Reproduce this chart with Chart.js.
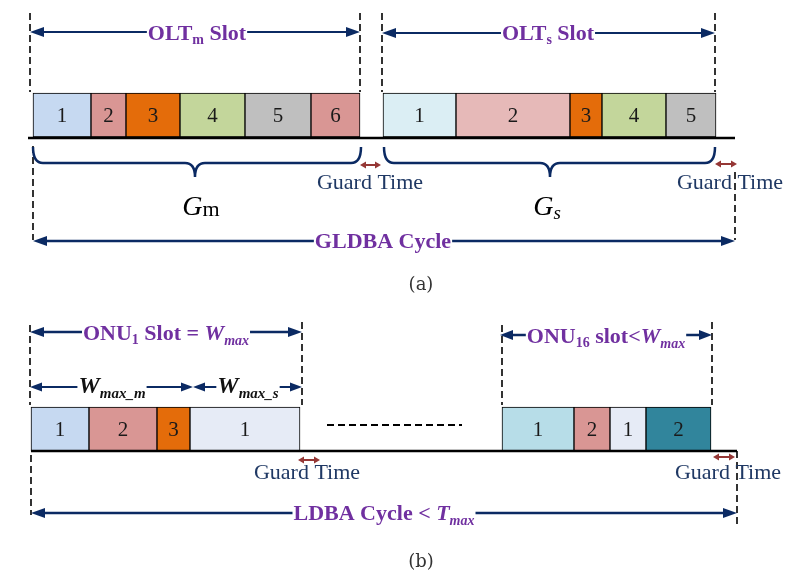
<!DOCTYPE html>
<html><head><meta charset="utf-8">
<script src="https://cdn.jsdelivr.net/npm/chart.js@4"></script>
<style>html,body{margin:0;padding:0;background:#fff}canvas{display:block}</style>
</head><body>
<canvas id="c" width="802" height="576"></canvas>
<script>
// ---- data (time units along the horizontal axis) ----
const oltmEdges = [33, 91, 126, 180, 245, 311, 360];
const oltmLabels = ['1','2','3','4','5','6'];
const oltmColors = ['#c6d9f1','#d99694','#e46c0a','#c3d69b','#bfbfbf','#d99694'];

const oltsEdges = [383, 456, 570, 602, 666, 716];
const oltsLabels = ['1','2','3','4','5'];
const oltsColors = ['#dbeef4','#e6b9b8','#e46c0a','#c3d69b','#bfbfbf'];

const onu1Edges = [31, 89, 157, 190, 300];
const onu1Labels = ['1','2','3','1'];
const onu1Colors = ['#c6d9f1','#d99694','#e46c0a','#e6ebf6'];

const onu16Edges = [502, 574, 610, 646, 711];
const onu16Labels = ['1','2','1','2'];
const onu16Colors = ['#b7dde8','#d99694','#e6ebf6','#31859c'];

const rowA = 115, rowB = 429;

function segs(edges, row){ const o=[]; for(let i=0;i<edges.length-1;i++) o.push({x:[edges[i],edges[i+1]], y:row}); return o; }
const barData = [].concat(segs(oltmEdges,rowA), segs(oltsEdges,rowA), segs(onu1Edges,rowB), segs(onu16Edges,rowB));
const barColors = [].concat(oltmColors, oltsColors, onu1Colors, onu16Colors);
const barLabels = [].concat(oltmLabels, oltsLabels, onu1Labels, onu16Labels);

const NAVY = '#0b2a63', PURPLE = '#7030a0', RED = '#953735', GT = '#1f3864';
const SERIF = '"Liberation Serif", "Times New Roman", serif';

function rich(ctx, runs, cx, base, bg){
  let w = 0;
  runs.forEach(r => { ctx.font = r.f; r.w = ctx.measureText(r.t).width; w += r.w; });
  let x = cx - w/2;
  if (bg) { ctx.fillStyle = '#fff'; ctx.fillRect(x-1, base-20, w+2, 28); }
  ctx.textAlign = 'left'; ctx.textBaseline = 'alphabetic';
  runs.forEach(r => { ctx.font = r.f; ctx.fillStyle = r.c; ctx.fillText(r.t, x, base + (r.dy||0)); x += r.w; });
}

const annot = {
  id: 'annot',
  afterDatasetsDraw(chart){
    const ctx = chart.ctx, X = v => chart.scales.x.getPixelForValue(v), Y = v => chart.scales.y.getPixelForValue(v);
    ctx.save();
    // numbers in boxes
    const meta = chart.getDatasetMeta(0);
    ctx.font = '21px ' + SERIF; ctx.fillStyle = '#1a1a1a'; ctx.textAlign = 'center'; ctx.textBaseline = 'middle';
    meta.data.forEach((el, i) => { const p = el.getProps(['x','base','y'], true); ctx.fillText(barLabels[i], (p.x + p.base)/2, p.y + 1); });

    // baselines
    function hline(x1,x2,y,lw,col){ ctx.beginPath(); ctx.lineWidth=lw; ctx.strokeStyle=col; ctx.setLineDash([]); ctx.moveTo(X(x1),Y(y)); ctx.lineTo(X(x2),Y(y)); ctx.stroke(); }
    hline(28, 735, 138, 2.5, '#000');
    hline(31, 737, 451, 2.5, '#000');

    // dashed lines
    function dash(x1,y1,x2,y2,lw){ ctx.beginPath(); ctx.lineWidth=lw||1.6; ctx.strokeStyle='#000'; ctx.setLineDash([7,4]); ctx.moveTo(X(x1),Y(y1)); ctx.lineTo(X(x2),Y(y2)); ctx.stroke(); ctx.setLineDash([]); }
    [[30,13,30,92],[360,13,360,92],[382,13,382,92],[715,13,715,92],
     [33,146,33,240],[735,172,735,240],
     [30,325,30,405],[302,322,302,405],[502,325,502,405],[712,322,712,405],
     [31,455,31,515],[737,451,737,526]].forEach(d => dash(d[0],d[1],d[2],d[3]));
    dash(327,425,462,425,1.8);

    // arrows
    function arrow(x1,x2,y,col,lw,hl,hw){
      const a=X(x1), b=X(x2), yy=Y(y);
      ctx.beginPath(); ctx.lineWidth=lw; ctx.strokeStyle=col; ctx.moveTo(a+hl-1,yy); ctx.lineTo(b-hl+1,yy); ctx.stroke();
      ctx.fillStyle=col;
      ctx.beginPath(); ctx.moveTo(a,yy); ctx.lineTo(a+hl,yy-hw); ctx.lineTo(a+hl,yy+hw); ctx.closePath(); ctx.fill();
      ctx.beginPath(); ctx.moveTo(b,yy); ctx.lineTo(b-hl,yy-hw); ctx.lineTo(b-hl,yy+hw); ctx.closePath(); ctx.fill();
    }
    arrow(30,360,32,NAVY,2,14,5);
    arrow(382,715,33,NAVY,2,14,5);
    arrow(33,735,241,NAVY,2.5,14,5);
    arrow(30,302,332,NAVY,2.5,14,5);
    arrow(30,193,387,NAVY,2,12,4.5);
    arrow(193,302,387,NAVY,2,12,4.5);
    arrow(500,712,335,NAVY,2.5,13,5);
    arrow(31,737,513,NAVY,2.5,14,5);
    // guard time arrows
    arrow(360,381,165,RED,2,6,3.5);
    arrow(715,737,164,RED,2,6,3.5);
    arrow(298,320,460,RED,2,6,3.5);
    arrow(713,735,457,RED,2,6,3.5);

    // braces
    function brace(x1,x2,tip,yTop,yMid,yTip){
      const r=10; const a=X(x1), b=X(x2), t=X(tip), y0=Y(yTop), ym=Y(yMid), yt=Y(yTip);
      ctx.beginPath(); ctx.lineWidth=2.5; ctx.strokeStyle=NAVY;
      ctx.moveTo(a,y0); ctx.quadraticCurveTo(a,ym,a+r,ym); ctx.lineTo(t-r,ym);
      ctx.quadraticCurveTo(t,ym,t,yt); ctx.quadraticCurveTo(t,ym,t+r,ym);
      ctx.lineTo(b-r,ym); ctx.quadraticCurveTo(b,ym,b,y0); ctx.stroke();
    }
    brace(33,361,195,147,163,177);
    brace(384,715,550,147,163,177);

    // labels
    const B = 'bold 22px ' + SERIF, BS = 'bold 14px ' + SERIF, BI = 'italic bold 22px ' + SERIF, BIS = 'italic bold 14px ' + SERIF;
    rich(ctx, [{t:'OLT',f:B,c:PURPLE},{t:'m',f:BS,c:PURPLE,dy:4},{t:' Slot',f:B,c:PURPLE}], X(197), Y(40), true);
    rich(ctx, [{t:'OLT',f:B,c:PURPLE},{t:'s',f:BS,c:PURPLE,dy:4},{t:' Slot',f:B,c:PURPLE}], X(548), Y(40), true);
    rich(ctx, [{t:'GLDBA Cycle',f:B,c:PURPLE}], X(383), Y(248), true);
    const GTF = '22px ' + SERIF;
    rich(ctx, [{t:'Guard Time',f:GTF,c:GT}], X(370), Y(189), false);
    rich(ctx, [{t:'Guard Time',f:GTF,c:GT}], X(730), Y(189), false);
    rich(ctx, [{t:'G',f:'italic 28px '+SERIF,c:'#000'},{t:'m',f:'22px '+SERIF,c:'#000',dy:1}], X(201), Y(215), false);
    rich(ctx, [{t:'G',f:'italic 28px '+SERIF,c:'#000'},{t:'s',f:'italic 19px '+SERIF,c:'#000',dy:4}], X(547), Y(215), false);

    rich(ctx, [{t:'ONU',f:B,c:PURPLE},{t:'1',f:BS,c:PURPLE,dy:4},{t:' Slot = ',f:B,c:PURPLE},{t:'W',f:BI,c:PURPLE},{t:'max',f:BIS,c:PURPLE,dy:5}], X(166), Y(340), true);
    rich(ctx, [{t:'W',f:'italic bold 24px '+SERIF,c:'#111'},{t:'max_m',f:'italic bold 15px '+SERIF,c:'#111',dy:5}], X(112), Y(393), true);
    rich(ctx, [{t:'W',f:'italic bold 24px '+SERIF,c:'#111'},{t:'max_s',f:'italic bold 15px '+SERIF,c:'#111',dy:5}], X(248), Y(393), true);
    rich(ctx, [{t:'ONU',f:B,c:PURPLE},{t:'16',f:BS,c:PURPLE,dy:4},{t:' slot<',f:B,c:PURPLE},{t:'W',f:BI,c:PURPLE},{t:'max',f:BIS,c:PURPLE,dy:5}], X(606), Y(343), true);
    rich(ctx, [{t:'Guard Time',f:GTF,c:GT}], X(307), Y(479), false);
    rich(ctx, [{t:'Guard Time',f:GTF,c:GT}], X(728), Y(479), false);
    rich(ctx, [{t:'LDBA Cycle < ',f:B,c:PURPLE},{t:'T',f:BI,c:PURPLE},{t:'max',f:BIS,c:PURPLE,dy:5}], X(384), Y(520), true);

    rich(ctx, [{t:'(a)',f:'18px "DejaVu Serif", serif',c:'#333'}], X(421), Y(290), false);
    rich(ctx, [{t:'(b)',f:'18px "DejaVu Serif", serif',c:'#333'}], X(421), Y(567), false);
    ctx.restore();
  }
};

new Chart(document.getElementById('c'), {
  type: 'bar',
  data: { datasets: [{ data: barData, backgroundColor: barColors, borderColor: '#000', borderWidth: 1, borderSkipped: false, barThickness: 44 }] },
  options: {
    indexAxis: 'y', responsive: false, animation: false, events: [],
    layout: { padding: 0 },
    scales: {
      x: { type: 'linear', min: 0, max: 802, display: false, offset: false },
      y: { type: 'linear', min: 0, max: 576, reverse: true, display: false, offset: false }
    },
    plugins: { legend: { display: false }, tooltip: { enabled: false } }
  },
  plugins: [annot]
});
</script>
</body></html>
